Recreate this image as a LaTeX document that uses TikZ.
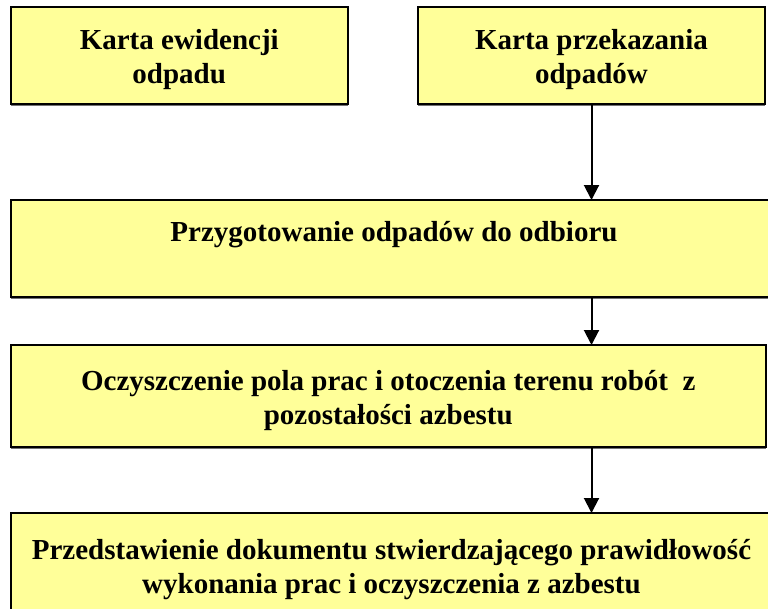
\documentclass[tikz,border=0pt]{standalone}
\usepackage{fontspec}
\setmainfont{Liberation Serif}
\usetikzlibrary{arrows.meta,shadows}
\definecolor{boxfill}{HTML}{FFFF99}
\newcommand{\toprule}{\rule{0pt}{29.5pt}}
\tikzset{
  flowbox/.style={draw=black, line width=2pt, fill=boxfill, rectangle, align=center,
    inner sep=0pt, outer sep=0pt,
    font=\fontsize{29}{34}\selectfont\bfseries,
    drop shadow={shadow xshift=0pt, shadow yshift=-2pt, fill=black!55, opacity=1}},
  flowarrow/.style={draw=black, line width=2pt, -{Triangle[width=15pt,length=15pt]}}
}
\begin{document}
\begin{tikzpicture}[x=1pt,y=-1pt]
\useasboundingbox (0,0) rectangle (768,608);
\clip (0,0) rectangle (768,608);
\fill[white] (0,0) rectangle (768,608);
\node[flowbox, minimum width=337.5pt, minimum height=96.5pt] (b1) at (179.25,55.25) {\toprule Karta ewidencji\\odpadu};
\node[flowbox, minimum width=347pt, minimum height=96.5pt] (b2) at (591.5,55.25) {\toprule Karta przekazania\\odpadów};
\node[flowbox, minimum width=766pt, minimum height=97pt] (b3) at (394,248.5) {\toprule Przygotowanie odpadów do odbioru\\\strut};
\node[flowbox, minimum width=754.5pt, minimum height=102pt] (b4) at (388.25,396) {\toprule Oczyszczenie pola prac i otoczenia terenu robót\ \ z\\pozostałości azbestu};
\node[flowbox, minimum width=761pt, minimum height=104pt] (b5) at (391.5,565) {\toprule Przedstawienie dokumentu stwierdzającego prawidłowość\\wykonania prac i oczyszczenia z azbestu};
\draw[flowarrow] (b2.south) -- (b3.north -| b2.south);
\draw[flowarrow] (b3.south -| b2.south) -- (b4.north -| b2.south);
\draw[flowarrow] (b4.south -| b2.south) -- (b5.north -| b2.south);
\end{tikzpicture}
\end{document}
